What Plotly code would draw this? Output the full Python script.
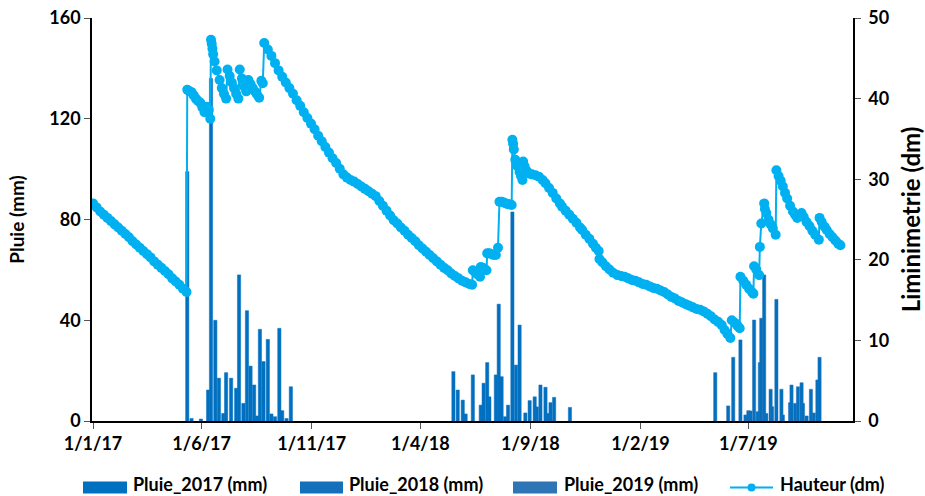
import plotly.graph_objects as go

# ---- Daily rainfall (mm) ----
pluie_2017_dates = ["2017-05-12", "2017-05-18", "2017-05-31", "2017-06-10", "2017-06-14",
                    "2017-06-20", "2017-06-25", "2017-07-01", "2017-07-05", "2017-07-12",
                    "2017-07-19", "2017-07-23", "2017-07-29", "2017-08-03", "2017-08-08",
                    "2017-08-13", "2017-08-17", "2017-08-21", "2017-08-26", "2017-09-01",
                    "2017-09-06", "2017-09-11", "2017-09-17", "2017-09-21", "2017-09-27",
                    "2017-10-03"]
pluie_2017_mm = [99, 1.0, 0.8, 12.3, 136, 40, 17, 3, 19.2, 17,
                 13, 58, 7, 43.8, 21.8, 14.3, 2, 36.4, 23.6, 32.4,
                 2.8, 1.7, 36.8, 4.1, 1.0, 13.6]

pluie_2018_dates = ["2018-05-17", "2018-05-23", "2018-05-30", "2018-06-03", "2018-06-13",
                    "2018-06-24", "2018-06-28", "2018-07-03", "2018-07-06", "2018-07-15",
                    "2018-07-19", "2018-07-23", "2018-07-28", "2018-08-01", "2018-08-07",
                    "2018-08-12", "2018-08-17", "2018-08-25", "2018-08-31", "2018-09-07",
                    "2018-09-10", "2018-09-15", "2018-09-22", "2018-09-25", "2018-09-29",
                    "2018-10-04", "2018-10-26"]
pluie_2018_mm = [19.6, 12.3, 8.3, 2.8, 18.3, 6.3, 15, 23.2, 9.6, 18.3,
                 46.4, 17.6, 1.7, 6.3, 83, 22.2, 38.1, 3.2, 8.1, 9.6,
                 5.6, 14.3, 13.4, 3.0, 7.3, 9.4, 5.4]

pluie_2019_dates = ["2019-05-16", "2019-06-03", "2019-06-10", "2019-06-20", "2019-06-27",
                    "2019-07-01", "2019-07-04", "2019-07-09", "2019-07-14", "2019-07-17",
                    "2019-07-19", "2019-07-23", "2019-07-26", "2019-08-01", "2019-08-03",
                    "2019-08-09", "2019-08-16", "2019-08-18", "2019-08-28", "2019-08-30",
                    "2019-09-04", "2019-09-08", "2019-09-13", "2019-09-15", "2019-09-20",
                    "2019-09-26", "2019-09-30", "2019-10-05", "2019-10-08"]
pluie_2019_mm = [19.2, 6.0, 25.3, 32.2, 2.4, 4.1, 4.0, 40.1, 3.7, 23.2,
                 40.8, 58, 3.0, 12.6, 5.7, 48.3, 12.6, 2.4, 7.3, 14.3,
                 7.0, 13.6, 15.2, 7.0, 2.0, 12.6, 3.2, 16.3, 25.3]

# ---- Water level readings (dm) ----
hauteur_dates = [
    "2017-01-01", "2017-01-06", "2017-01-11", "2017-01-16", "2017-01-21", "2017-01-26",
    "2017-01-31", "2017-02-05", "2017-02-10", "2017-02-15", "2017-02-20", "2017-02-25",
    "2017-03-02", "2017-03-07", "2017-03-12", "2017-03-17", "2017-03-22", "2017-03-27",
    "2017-04-01", "2017-04-06", "2017-04-11", "2017-04-16", "2017-04-21", "2017-04-26",
    "2017-05-01", "2017-05-06", "2017-05-11", "2017-05-12", "2017-05-15", "2017-05-18",
    "2017-05-21", "2017-05-24", "2017-05-27", "2017-05-30", "2017-06-02", "2017-06-05",
    "2017-06-08", "2017-06-11", "2017-06-13", "2017-06-14", "2017-06-15", "2017-06-16",
    "2017-06-17", "2017-06-19", "2017-06-22", "2017-06-26", "2017-06-29", "2017-07-02",
    "2017-07-05", "2017-07-07", "2017-07-10", "2017-07-13", "2017-07-16", "2017-07-19",
    "2017-07-22", "2017-07-24", "2017-07-27", "2017-07-30", "2017-08-02", "2017-08-05",
    "2017-08-08", "2017-08-11", "2017-08-14", "2017-08-17", "2017-08-20", "2017-08-23",
    "2017-08-25", "2017-08-27", "2017-09-01", "2017-09-06", "2017-09-11", "2017-09-16",
    "2017-09-21", "2017-09-26", "2017-10-01", "2017-10-06", "2017-10-11", "2017-10-16",
    "2017-10-21", "2017-10-26", "2017-10-31", "2017-11-05", "2017-11-10", "2017-11-15",
    "2017-11-20", "2017-11-25", "2017-11-30", "2017-12-05", "2017-12-10", "2017-12-15",
    "2017-12-20", "2017-12-25", "2017-12-30",
    "2018-01-04", "2018-01-09", "2018-01-14", "2018-01-19", "2018-01-24", "2018-01-29",
    "2018-02-03", "2018-02-08", "2018-02-13", "2018-02-18", "2018-02-23", "2018-02-28",
    "2018-03-05", "2018-03-10", "2018-03-15", "2018-03-20", "2018-03-25", "2018-03-30",
    "2018-04-04", "2018-04-09", "2018-04-14", "2018-04-19", "2018-04-24", "2018-04-29",
    "2018-05-04", "2018-05-09", "2018-05-14", "2018-05-19", "2018-05-24", "2018-05-29",
    "2018-06-03", "2018-06-08", "2018-06-12", "2018-06-13", "2018-06-16", "2018-06-19",
    "2018-06-23", "2018-06-24", "2018-06-27", "2018-06-30", "2018-07-02", "2018-07-03",
    "2018-07-06", "2018-07-09", "2018-07-12", "2018-07-15", "2018-07-18", "2018-07-20",
    "2018-07-23", "2018-07-26", "2018-07-29", "2018-08-01", "2018-08-04", "2018-08-06",
    "2018-08-07", "2018-08-08", "2018-08-09", "2018-08-11", "2018-08-14", "2018-08-17",
    "2018-08-19", "2018-08-21", "2018-08-22", "2018-08-24", "2018-08-27", "2018-08-30",
    "2018-09-03", "2018-09-08", "2018-09-13", "2018-09-18", "2018-09-22", "2018-09-27",
    "2018-10-02", "2018-10-07", "2018-10-12", "2018-10-15", "2018-10-20", "2018-10-25",
    "2018-10-30", "2018-11-04", "2018-11-09", "2018-11-12", "2018-11-17", "2018-11-22",
    "2018-11-27", "2018-12-01", "2018-12-05", "2018-12-06", "2018-12-10", "2018-12-15",
    "2018-12-20", "2018-12-25", "2018-12-31",
    "2019-01-05", "2019-01-10", "2019-01-15", "2019-01-20", "2019-01-25", "2019-01-30",
    "2019-02-04", "2019-02-09", "2019-02-14", "2019-02-19", "2019-02-24", "2019-03-01",
    "2019-03-06", "2019-03-11", "2019-03-16", "2019-03-21", "2019-03-26", "2019-03-31",
    "2019-04-05", "2019-04-10", "2019-04-15", "2019-04-20", "2019-04-25", "2019-04-30",
    "2019-05-05", "2019-05-10", "2019-05-15", "2019-05-20", "2019-05-25", "2019-05-29",
    "2019-06-02", "2019-06-06", "2019-06-08", "2019-06-12", "2019-06-16", "2019-06-19",
    "2019-06-20", "2019-06-24", "2019-06-28", "2019-07-02", "2019-07-06", "2019-07-08",
    "2019-07-09", "2019-07-12", "2019-07-16", "2019-07-17", "2019-07-19", "2019-07-23",
    "2019-07-24", "2019-07-26", "2019-07-29", "2019-08-01", "2019-08-04", "2019-08-08",
    "2019-08-09", "2019-08-12", "2019-08-15", "2019-08-18", "2019-08-21", "2019-08-24",
    "2019-08-28", "2019-09-01", "2019-09-04", "2019-09-07", "2019-09-10", "2019-09-13",
    "2019-09-16", "2019-09-20", "2019-09-24", "2019-09-28", "2019-10-02", "2019-10-07",
    "2019-10-08", "2019-10-11", "2019-10-15", "2019-10-18", "2019-10-22", "2019-10-26",
    "2019-10-30", "2019-11-03", "2019-11-06",
]
hauteur_dm = [
    27.0, 26.5, 26.0, 25.6, 25.2, 24.8,
    24.4, 24.0, 23.6, 23.2, 22.8, 22.3,
    21.9, 21.5, 21.1, 20.7, 20.3, 19.8,
    19.4, 19.0, 18.6, 18.2, 17.7, 17.3,
    16.9, 16.4, 16.0, 41.1, 40.9, 40.8,
    40.4, 40.0, 39.7, 39.5, 38.9, 38.3,
    39.0, 38.6, 37.5, 47.3, 46.8, 46.2,
    45.5, 44.6, 43.5, 42.3, 41.3, 40.6,
    40.0, 43.6, 42.8, 42.0, 41.3, 40.6,
    40.0, 43.6, 42.5, 41.5, 40.9, 42.3,
    41.8, 41.3, 40.9, 40.5, 40.1, 42.2,
    41.9, 46.9, 46.1, 45.3, 44.4, 43.5,
    42.7, 42.0, 41.3, 40.6, 39.8, 39.1,
    38.3, 37.6, 36.9, 36.2, 35.4, 34.7,
    34.0, 33.3, 32.6, 32.0, 31.3, 30.6,
    30.2, 29.9, 29.7,
    29.4, 29.1, 28.8, 28.5, 28.2, 27.9,
    27.3, 26.7, 26.1, 25.5, 24.9, 24.5,
    24.0, 23.6, 23.1, 22.7, 22.3, 21.8,
    21.4, 21.0, 20.6, 20.2, 19.8, 19.4,
    19.0, 18.7, 18.3, 18.0, 17.7, 17.4,
    17.2, 17.0, 16.9, 18.7, 18.5, 18.2,
    17.9, 19.1, 19.0, 18.8, 18.7, 20.8,
    20.8, 20.7, 20.6, 20.6, 21.5, 27.2,
    27.2, 27.1, 27.0, 26.9, 26.9, 26.8,
    34.9, 34.4, 33.7, 32.4, 31.6, 30.9,
    30.4, 29.9, 32.2, 31.6, 31.0, 30.7,
    30.6, 30.5, 30.3, 29.9, 29.5, 28.9,
    28.3, 27.6, 27.0, 26.6, 26.1, 25.6,
    25.1, 24.6, 24.0, 23.7, 23.1, 22.6,
    22.0, 21.5, 21.1, 20.1, 19.7, 19.2,
    18.8, 18.4, 18.1,
    18.0, 17.9, 17.7, 17.5, 17.4, 17.2,
    17.0, 16.9, 16.7, 16.5, 16.4, 16.2,
    16.0, 15.7, 15.4, 15.2, 14.9, 14.7,
    14.5, 14.3, 14.1, 13.9, 13.8, 13.6,
    13.3, 13.0, 12.6, 12.3, 11.9, 11.3,
    10.8, 10.3, 12.5, 12.2, 11.8, 11.5,
    17.9, 17.4, 16.9, 16.4, 16.0, 15.8,
    19.2, 18.8, 18.1, 21.6, 24.5, 27.0,
    26.3, 25.8, 25.0, 24.4, 23.9, 23.1,
    31.1, 30.4, 29.8, 29.1, 28.3, 27.6,
    26.7, 26.0, 25.6, 25.2, 25.5, 25.8,
    25.3, 24.7, 24.2, 23.6, 23.1, 22.5,
    25.2, 24.7, 24.1, 23.7, 23.2, 22.8,
    22.4, 22.0, 21.8,
]

# ---- Axis ticks ----
x_tick_dates = ["2017-01-01", "2017-06-01", "2017-11-01", "2018-04-01",
                "2018-09-01", "2019-02-01", "2019-07-01"]
x_tick_labels = ["1/1/17", "1/6/17", "1/11/17", "1/4/18", "1/9/18", "1/2/19", "1/7/19"]
pluie_ticks = [0, 40, 80, 120, 160]
hauteur_ticks = [0, 10, 20, 30, 40, 50]

# ---- Styling ----
W, H = 925, 496
L, R, T, B = 92, 72, 18, 75
FONT = "Lato"
C_2017 = "#0070C0"
C_2018 = "#1570BC"
C_2019 = "#2E75B6"
C_LINE = "#00B0F0"
DAY_MS = 86400000
BAR_W = 4.5 * DAY_MS

fig = go.Figure()

for dates, vals, edge, name in [
    (pluie_2017_dates, pluie_2017_mm, C_2017, "Pluie_2017 (mm)"),
    (pluie_2018_dates, pluie_2018_mm, C_2018, "Pluie_2018 (mm)"),
    (pluie_2019_dates, pluie_2019_mm, C_2019, "Pluie_2019 (mm)"),
]:
    fig.add_trace(go.Bar(
        x=dates, y=vals, name=name, width=[BAR_W] * len(vals),
        marker=dict(color=C_2017, line=dict(width=0.5, color=edge)),
        yaxis="y", showlegend=False,
    ))

fig.add_trace(go.Scatter(
    x=hauteur_dates, y=hauteur_dm, name="Hauteur (dm)", mode="lines+markers",
    line=dict(color=C_LINE, width=2),
    marker=dict(color=C_LINE, size=10, line=dict(width=0)),
    yaxis="y2", showlegend=False,
))

# ---- Legend drawn along the bottom ----
pw, ph = W - L - R, H - T - B


def px_x(px):
    return (px - L) / pw


def px_y(py):
    return (H - B - py) / ph


shapes = []
annotations = []
legend_y = 487.5
legend_font = dict(family=FONT, size=18, color="black", weight="bold")
for x0, x1, tx, col, label in [
    (83, 127, 131, C_2017, "Pluie_2017 (mm)"),
    (300, 343, 347, C_2018, "Pluie_2018 (mm)"),
    (513, 557, 562, C_2019, "Pluie_2019 (mm)"),
]:
    shapes.append(dict(type="rect", xref="paper", yref="paper",
                       x0=px_x(x0), x1=px_x(x1), y0=px_y(legend_y + 6), y1=px_y(legend_y - 6),
                       fillcolor=col, line=dict(width=0)))
    annotations.append(dict(xref="paper", yref="paper", x=px_x(tx), y=px_y(legend_y - 1),
                            xanchor="left", yanchor="middle", showarrow=False, text=label,
                            height=26, valign="top", font=legend_font))
shapes.append(dict(type="line", xref="paper", yref="paper",
                   x0=px_x(730), x1=px_x(773), y0=px_y(legend_y), y1=px_y(legend_y),
                   line=dict(color=C_LINE, width=2)))
shapes.append(dict(type="circle", xref="paper", yref="paper",
                   x0=px_x(747.5), x1=px_x(755.5), y0=px_y(legend_y + 4), y1=px_y(legend_y - 4),
                   fillcolor=C_LINE, line=dict(width=0)))
annotations.append(dict(xref="paper", yref="paper", x=px_x(778), y=px_y(legend_y - 1),
                        xanchor="left", yanchor="middle", showarrow=False, text="Hauteur (dm)",
                        height=26, valign="top", font=legend_font))

tick_font = dict(family=FONT, size=18, color="black", weight="bold")

fig.update_layout(
    width=W, height=H,
    margin=dict(l=L, r=R, t=T, b=B, pad=0, autoexpand=False),
    paper_bgcolor="white", plot_bgcolor="white",
    barmode="overlay",
    showlegend=False,
    font=dict(family=FONT, color="black"),
    xaxis=dict(
        type="date", automargin=False,
        range=["2016-12-30 14:00", "2019-11-23 12:00"],
        tickvals=x_tick_dates, ticktext=x_tick_labels,
        tickfont=tick_font,
        showgrid=False, zeroline=False,
        showline=True, linecolor="black", linewidth=1.5,
        ticks="outside", ticklen=6, tickwidth=1, tickcolor="#555",
    ),
    yaxis=dict(
        range=[0, 160], tickvals=pluie_ticks, automargin=False,
        tickfont=tick_font,
        title=dict(text="Pluie (mm)", font=dict(family=FONT, size=19, color="black", weight="bold"),
                   standoff=20),
        showgrid=False, zeroline=False,
        showline=True, linecolor="black", linewidth=1.5,
        ticks="outside", ticklen=6, tickwidth=1, tickcolor="#555",
    ),
    yaxis2=dict(
        range=[0, 50], tickvals=hauteur_ticks, automargin=False,
        overlaying="y", side="right",
        tickfont=tick_font, ticklabelstandoff=4,
        title=dict(text="Liminimetrie (dm)", font=dict(family=FONT, size=24, color="black", weight="bold"),
                   standoff=16),
        showgrid=False, zeroline=False,
        showline=True, linecolor="black", linewidth=1.5,
        ticks="outside", ticklen=6, tickwidth=1, tickcolor="#555",
    ),
    shapes=shapes,
    annotations=annotations,
)

fig.write_html("out.html")
